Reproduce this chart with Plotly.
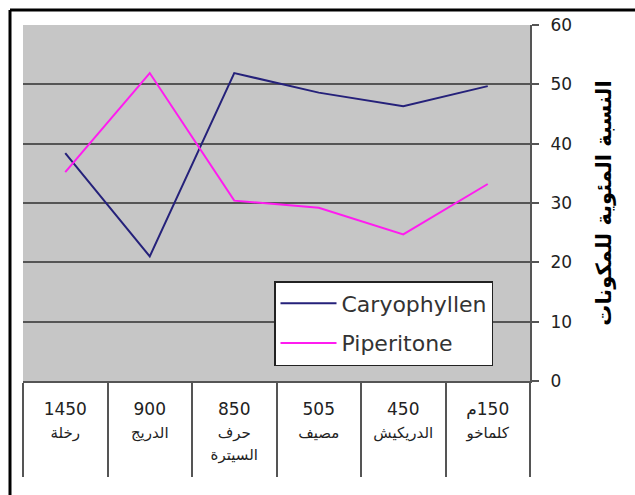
import plotly.graph_objects as go

# Sites ordered by altitude (m); number on the first line, place name below
altitudes = ["1450", "900", "850", "505", "450", "\u202b150م\u202c"]
sites = ["رخلة", "الدريج", "حرف<br>السيترة", "مصيف", "الدريكيش", "كلماخو"]

caryophyllen = [38.4, 21.0, 51.9, 48.6, 46.3, 49.7]
piperitone = [35.2, 51.9, 30.4, 29.2, 24.7, 33.2]

y_title = "النسبة المئوية للمكونات"
y_ticks = [0, 10, 20, 30, 40, 50, 60]

W, H = 635, 495
ML, MR, MT, MB = 23, 105, 25, 114
PW, PH = W - ML - MR, H - MT - MB


def px_x(p):
    return (p - ML) / PW


def px_y(p):
    return (H - MB - p) / PH


tick_text = [
    f"{a}<br><span style='font-size:15px'>{s}</span>" for a, s in zip(altitudes, sites)
]
cats = list(range(len(altitudes)))

fig = go.Figure()
fig.add_trace(go.Scatter(
    x=cats, y=caryophyllen, mode="lines", name="Caryophyllen",
    line=dict(color="#25217a", width=2), legendgroup="a",
))
fig.add_trace(go.Scatter(
    x=cats, y=piperitone, mode="lines", name="Piperitone",
    line=dict(color="#ff1cf0", width=2), legendgroup="b",
))

fig.update_xaxes(
    type="linear", range=[-0.5, len(cats) - 0.5],
    tickmode="array", tickvals=cats, ticktext=tick_text,
    showgrid=False, zeroline=False,
    showline=True, linecolor="#555555", linewidth=2,
    ticks="", tickfont=dict(family="DejaVu Sans", size=17, color="#222222"),
    ticklabelstandoff=12,
)
# category separators hanging below the axis
fig.update_xaxes(minor=dict(
    tickmode="array", tickvals=[c - 0.5 for c in cats] + [len(cats) - 0.5],
    ticks="outside", ticklen=94, tickwidth=2, tickcolor="#555555", showgrid=False,
))

fig.update_yaxes(
    side="right", range=[0, 60], tickmode="array", tickvals=y_ticks,
    showgrid=True, gridcolor="#555555", gridwidth=1.5,
    zeroline=False, showline=True, linecolor="#555555", linewidth=2,
    ticks="outside", ticklen=7, tickwidth=1.5, tickcolor="#555555",
    tickfont=dict(family="DejaVu Sans", size=17, color="#222222"),
    ticklabelstandoff=8,
    title=dict(text=y_title, standoff=25,
               font=dict(family="DejaVu Sans", size=21, color="#000000", weight="bold")),
)

fig.update_layout(
    width=W, height=H,
    margin=dict(l=ML, r=MR, t=MT, b=MB, pad=0),
    paper_bgcolor="white", plot_bgcolor="#c6c6c6",
    showlegend=True,
    legend=dict(
        x=px_x(274), y=px_y(281), xanchor="left", yanchor="top",
        bgcolor="white", bordercolor="#222222", borderwidth=1.5,
        font=dict(family="DejaVu Sans", size=22, color="#333333"),
        tracegroupgap=8, traceorder="grouped", itemwidth=56,
    ),
    shapes=[
        # outer frame: top and left edges
        dict(type="line", xref="paper", yref="paper", layer="above",
             x0=px_x(10), x1=px_x(W + 5), y0=px_y(10), y1=px_y(10),
             line=dict(color="black", width=3)),
        dict(type="line", xref="paper", yref="paper", layer="above",
             x0=px_x(10), x1=px_x(10), y0=px_y(10), y1=px_y(H + 5),
             line=dict(color="black", width=3)),
    ],
)

fig.write_html("out.html")
